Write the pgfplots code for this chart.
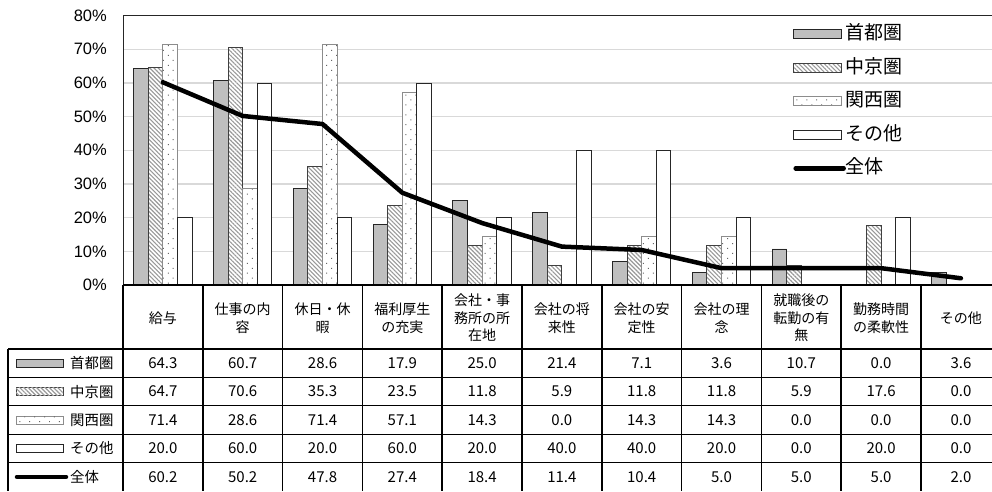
\documentclass[border=0pt]{standalone}
\usepackage{fontspec}
\setmainfont{Noto Sans CJK JP}
\newfontfamily\tickfont{Liberation Sans}
\usepackage{pgfplots}
\usepackage{pgfplotstable}
\pgfplotsset{compat=1.18}
\usetikzlibrary{patterns.meta}

\pgfplotstableread{
x shuto chukyo kansai sonota zentai
0 64.3 64.7 71.4 20.0 60.2
1 60.7 70.6 28.6 60.0 50.2
2 28.6 35.3 71.4 20.0 47.8
3 17.9 23.5 57.1 60.0 27.4
4 25.0 11.8 14.3 20.0 18.4
5 21.4 5.9 0.0 40.0 11.4
6 7.1 11.8 14.3 40.0 10.4
7 3.6 11.8 14.3 20.0 5.0
8 10.7 5.9 0.0 0.0 5.0
9 0.0 17.6 0.0 20.0 5.0
10 3.6 0.0 0.0 0.0 2.0
}\data

\tikzset{
  sShuto/.style={fill=black!25, draw=black!85, line width=0.9pt},
  sChukyo/.style={fill=white, draw=black!75, line width=0.9pt, postaction={pattern color=black!40, pattern={Lines[angle=-45,distance=3pt,line width=1.1pt]}}},
  sKansai/.style={fill=white, draw=black!45, line width=0.9pt, postaction={pattern color=black!60, pattern={Dots[angle=45,distance=7pt,radius=0.7pt]}}},
  sSonota/.style={fill=white, draw=black!85, line width=0.9pt},
  sZentai/.style={draw=black, line width=4.5pt, line cap=round, line join=round},
}
\pgfplotsset{
  barleg/.style={legend image code/.code={\draw[##1] (0pt,-4.5pt) rectangle (48pt,4.5pt);}},
  lineleg/.style={legend image code/.code={\draw[##1] (2pt,0pt) -- (50pt,0pt);}},
}

\begin{document}
\begin{tikzpicture}[x=1pt,y=1pt]
\useasboundingbox (0,0) rectangle (992,491);
\begin{axis}[
  at={(123pt,206pt)}, anchor=south west,
  scale only axis, width=877.8pt, height=269.4pt,
  xmin=-0.5, xmax=10.5, ymin=0, ymax=80,
  xtick=\empty, ytick={0,10,...,80},
  yticklabel={\tickfont\pgfmathprintnumber[fixed,precision=0,assume math mode=true]{\tick}\%},
  yticklabel style={font=\fontsize{16.5}{16.5}\selectfont, anchor=east, inner sep=0pt, xshift=-16pt},
  ymajorgrids, grid style={black!15, line width=1.3pt},
  major tick length=0pt,
  axis line style={black!85, line width=1pt},
  legend style={draw=none, fill=none, at={(0.7633,1)}, anchor=north west, yshift=-9pt,
    inner sep=0pt, row sep=14.5pt, font=\fontsize{19}{19}\selectfont,
    nodes={inner sep=0pt, text height=15pt, text depth=4pt},
    /tikz/every even column/.append style={column sep=6pt}},
  legend cell align=left,
]
\addplot[ybar, bar width=14.6pt, bar shift=-21.9pt, sShuto, barleg] table[x=x,y=shuto]{\data};
\addlegendentry{首都圏}
\addplot[ybar, bar width=14.6pt, bar shift=-7.3pt, sChukyo, barleg] table[x=x,y=chukyo]{\data};
\addlegendentry{中京圏}
\addplot[ybar, bar width=14.6pt, bar shift=7.3pt, sKansai, barleg] table[x=x,y=kansai]{\data};
\addlegendentry{関西圏}
\addplot[ybar, bar width=14.6pt, bar shift=21.9pt, sSonota, barleg] table[x=x,y=sonota]{\data};
\addlegendentry{その他}
\addplot[sharp plot, no marks, sZentai, lineleg] table[x=x,y=zentai]{\data};
\addlegendentry{全体}
\end{axis}

% ---- data table ----
\draw[line width=2pt] (123,206) -- (1002,206);
\foreach \y in {142,113.6,85.2,56.8,28.4}
  \draw[line width=1.3pt] (8,\y) -- (1002,\y);
\draw[line width=1.3pt] (8,142) -- (8,0);
\foreach \k in {0,...,11}
  \draw[line width=1.6pt] ({123+79.8*\k},206) -- ({123+79.8*\k},0);

\foreach \k/\lab in {0/{給与}, 1/{仕事の内\\容}, 2/{休日・休\\暇}, 3/{福利厚生\\の充実},
  4/{会社・事\\務所の所\\在地}, 5/{会社の将\\来性}, 6/{会社の安\\定性}, 7/{会社の理\\念},
  8/{就職後の\\転勤の有\\無}, 9/{勤務時間\\の柔軟性}, 10/{その他}}
  \node[align=center, font=\fontsize{14}{17.5}\selectfont] at ({123+79.8*(\k+0.5)},173) {\lab};

\foreach \col/\yy in {shuto/127.8, chukyo/99.4, kansai/71, sonota/42.6, zentai/14.2} {
  \foreach \k in {0,...,10} {
    \pgfplotstablegetelem{\k}{\col}\of\data
    \node[font=\fontsize{15}{15}\selectfont] at ({123+79.8*(\k+0.5)},\yy)
      {\pgfmathprintnumber[fixed,fixed zerofill,precision=1,assume math mode=true]{\pgfplotsretval}};
  }
}

% row keys
\draw[sShuto] (16,123.8) rectangle (63,131.8);
\draw[sChukyo] (16,95.4) rectangle (63,103.4);
\draw[sKansai] (16,67) rectangle (63,75);
\draw[sSonota] (16,38.6) rectangle (63,46.6);
\draw[sZentai] (17,14.2) -- (66,14.2);
\foreach \lab/\yy in {首都圏/127.8, 中京圏/99.4, 関西圏/71, その他/42.6, 全体/14.2}
  \node[anchor=west, font=\fontsize{14.4}{14.4}\selectfont, inner sep=0pt] at (70,\yy) {\lab};
\end{tikzpicture}
\end{document}
